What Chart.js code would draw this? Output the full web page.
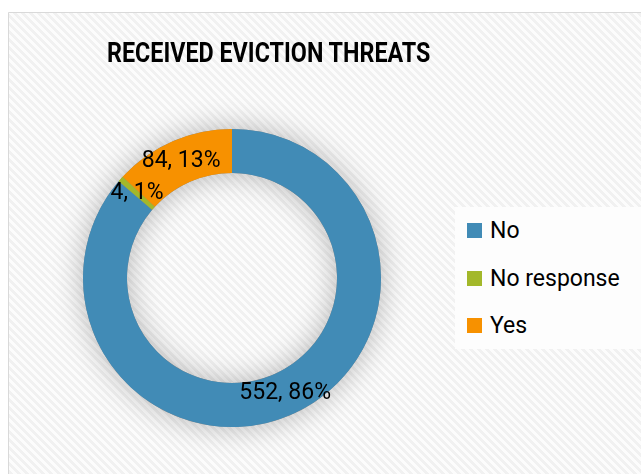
<!DOCTYPE html>
<html>
<head>
<meta charset="utf-8">
<script src="https://cdn.jsdelivr.net/npm/chart.js@4"></script>
<style>
  html, body { margin: 0; padding: 0; background: #ffffff; }
  #wrap { position: relative; width: 641px; height: 474px; overflow: hidden; font-family: Roboto, "Noto Sans", sans-serif; }
  #c { position: absolute; left: 0; top: 0; }
  #title { position: absolute; left: 0; top: 37px; white-space: nowrap; font-weight: bold; font-size: 28px; line-height: 32px; color: #000; transform-origin: 0 0; }
  #legend { position: absolute; left: 455px; top: 207px; width: 186px; height: 142px; background: #fdfdfd; }
  .item { position: absolute; left: 12px; height: 24px; font-size: 23px; line-height: 24px; color: #000; white-space: nowrap; }
  .sw { position: absolute; left: 0; top: 4px; width: 15px; height: 15px; }
  .tx { position: absolute; left: 23px; top: 0; }
</style>
</head>
<body>
<div id="wrap">
  <canvas id="c" width="641" height="474"></canvas>
  <div id="title"></div>
  <div id="legend"></div>
</div>
<script>
const chartTitle = 'RECEIVED EVICTION THREATS';
const categories = ['No', 'No response', 'Yes'];
const counts = [552, 4, 84];
const sliceColors = ['#418bb6', '#a3b82a', '#f79100'];

// hatch pattern
function makePattern(ctx) {
  const t = document.createElement('canvas');
  t.width = 8; t.height = 8;
  const tc = t.getContext('2d');
  const img = tc.createImageData(8, 8);
  for (let y = 0; y < 8; y++) for (let x = 0; x < 8; x++) {
    const k = ((x - y) % 8 + 8) % 8;
    const v = k < 4 ? 241 : 252;
    const i = (y * 8 + x) * 4;
    img.data[i] = v; img.data[i+1] = v; img.data[i+2] = v; img.data[i+3] = 255;
  }
  tc.putImageData(img, 0, 0);
  return ctx.createPattern(t, 'repeat');
}

const bgPlugin = {
  id: 'bg',
  beforeDraw(chart) {
    const ctx = chart.ctx;
    ctx.save();
    ctx.fillStyle = '#ffffff';
    ctx.fillRect(0, 0, chart.width, chart.height);
    ctx.fillStyle = makePattern(ctx);
    ctx.fillRect(8, 12, chart.width, chart.height);
    ctx.strokeStyle = '#d9d9d9';
    ctx.lineWidth = 1;
    ctx.beginPath();
    ctx.moveTo(8.5, chart.height + 5);
    ctx.lineTo(8.5, 12.5);
    ctx.lineTo(chart.width + 5, 12.5);
    ctx.stroke();
    ctx.restore();
  },
  beforeDatasetsDraw(chart) {
    const meta = chart.getDatasetMeta(0);
    const a = meta.data[0];
    if (!a) return;
    const ctx = chart.ctx;
    ctx.save();
    ctx.shadowColor = 'rgba(0,0,0,0.28)';
    ctx.shadowBlur = 30;
    ctx.fillStyle = '#888';
    ctx.beginPath();
    ctx.arc(a.x, a.y, a.outerRadius, 0, Math.PI * 2);
    ctx.arc(a.x, a.y, a.innerRadius, 0, Math.PI * 2, true);
    ctx.fill();
    ctx.restore();
  },
  afterDatasetsDraw(chart) {
    const meta = chart.getDatasetMeta(0);
    const data = chart.data.datasets[0].data;
    const total = data.reduce((s, v) => s + v, 0);
    const ctx = chart.ctx;
    ctx.save();
    ctx.fillStyle = '#000';
    ctx.font = '23px Roboto';
    ctx.textAlign = 'center';
    ctx.textBaseline = 'middle';
    meta.data.forEach((arc, i) => {
      const p = arc.tooltipPosition();
      const txt = data[i] + ', ' + Math.round(data[i] / total * 100) + '%';
      ctx.fillText(txt, p.x, p.y);
    });
    ctx.restore();
  }
};

new Chart(document.getElementById('c'), {
  type: 'doughnut',
  data: {
    labels: categories,
    datasets: [{ data: counts, backgroundColor: sliceColors, borderWidth: 0 }]
  },
  options: {
    responsive: false,
    animation: false,
    devicePixelRatio: 1,
    cutout: '70.5%',
    layout: { padding: { left: 83, top: 129, right: 260, bottom: 47 } },
    plugins: { legend: { display: false }, tooltip: { enabled: false }, title: { display: false } }
  },
  plugins: [bgPlugin]
});

// title
const tEl = document.getElementById('title');
tEl.textContent = chartTitle;
const targetW = 323;
const w = tEl.offsetWidth;
const sx = targetW / w;
tEl.style.left = (268.5 - targetW / 2) + 'px';
tEl.style.transform = 'scaleX(' + sx + ')';

// legend
const lg = document.getElementById('legend');
categories.forEach((name, i) => {
  const it = document.createElement('div');
  it.className = 'item';
  it.style.top = (12 + i * 47.6) + 'px';
  const sw = document.createElement('div');
  sw.className = 'sw';
  sw.style.background = sliceColors[i];
  const tx = document.createElement('div');
  tx.className = 'tx';
  tx.textContent = name;
  it.appendChild(sw); it.appendChild(tx);
  lg.appendChild(it);
});
</script>
</body>
</html>
